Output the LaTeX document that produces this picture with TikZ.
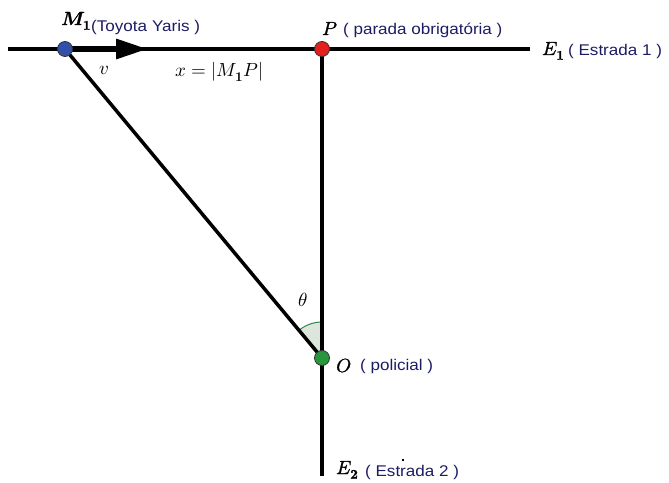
\documentclass[tikz,border=0pt]{standalone}
\usepackage{fontspec}
\setmainfont{Liberation Sans}
\newfontfamily\lblfont[FakeStretch=1.1]{Liberation Sans}
\usepackage{unicode-math}
\setmathfont{Latin Modern Math}
\setmathfont{Latin Modern Math}[version=heavy,FakeBold=1.2]
\usetikzlibrary{arrows.meta}
\definecolor{lbl}{RGB}{28,28,100}
\definecolor{dotblue}{RGB}{50,80,170}
\definecolor{dotred}{RGB}{230,30,30}
\definecolor{dotgreen}{RGB}{40,150,60}
\definecolor{anglefill}{RGB}{220,230,220}
\definecolor{anglegreen}{RGB}{40,140,70}
\tikzset{
  road/.style={line width=3.5pt, black},
  pt/.style={circle, draw=black!80, line width=0.8pt, minimum size=15pt, inner sep=0pt},
  mathlbl/.style={inner sep=0pt, anchor=base west, font=\fontsize{19}{22}\selectfont},
  heavylbl/.style={mathlbl, font=\fontsize{19}{22}\selectfont\mathversion{heavy}},
  txt/.style={inner sep=0pt, text=lbl, font=\lblfont\fontsize{15.5}{19}\selectfont, anchor=base west},
}
\begin{document}
\begin{tikzpicture}[x=1pt,y=1pt]
\useasboundingbox (0,0) rectangle (669,482);
\coordinate (L) at (8,433);
\coordinate (R) at (530,433);
\coordinate (B) at (322,6);
\coordinate (A) at (148,433);
\coordinate (M) at (65,433);
\coordinate (Pc) at (322,433);
\coordinate (Oc) at (322,124);
% angle
\fill[anglefill] (Oc) -- ++(90:36) arc[start angle=90, end angle=129.75, radius=36] -- cycle;
\draw[anglegreen, line width=1pt] (Oc) ++(90:36) arc[start angle=90, end angle=129.75, radius=36];
% roads
\draw[road] (L) -- (R);
\draw[road] (Pc) -- (B);
\draw[road] (M) -- (Oc);
\draw[line width=6pt, -{Triangle[length=32pt, width=19pt]}] (M) -- (A);
% points
\node[pt, fill=dotblue] (M1) at (M) {};
\node[pt, fill=dotred] (P) at (Pc) {};
\node[pt, fill=dotgreen] (O) at (Oc) {};
% stray mark
\fill (402,21) rectangle (404,23);
% labels
\node[heavylbl] (M1l) at (61,457) {$\symbfit{M}_{\symbf{1}}$};
\node[txt] (M1t) at (91,450) {(Toyota\hspace{5pt}Yaris )};
\node[heavylbl] (Pl) at (322,447) {$P$};
\node[txt] (Pt) at (343,447) {( parada obrigatória )};
\node[heavylbl] (E1l) at (542,427) {$E_{\symbf{1}}$};
\node[txt] (E1t) at (568,426) {( Estrada 1 )};
\node[mathlbl] (vl) at (99,407) {$v$};
\node[mathlbl] (xl) at (175,405) {$x=|M_{\symbf{1}}P|$};
\node[mathlbl] (thl) at (298,175) {$\theta$};
\node[heavylbl] (Ol) at (336,110) {$O$};
\node[txt] (Ot) at (360,111) {( policial )};
\node[heavylbl] (E2l) at (336,8) {$E_{\symbf{2}}$};
\node[txt] (E2t) at (365,6) {( Estrada 2 )};
\end{tikzpicture}
\end{document}
